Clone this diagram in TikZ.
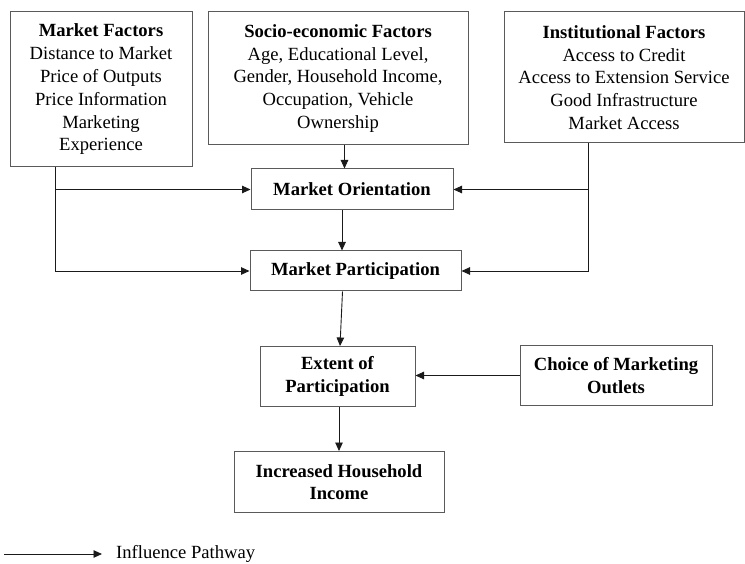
\documentclass[tikz,border=0pt]{standalone}
\usepackage{fontspec}
\setmainfont{Liberation Serif}
\usepackage{tikz}
\usetikzlibrary{arrows.meta,positioning,calc}
\usepackage{xcolor}
\definecolor{boxgray}{HTML}{5A5A5A}
\definecolor{linkdark}{HTML}{1A1A1A}

\begin{document}
\begin{tikzpicture}[
  x=1pt, y=-1pt,
  font=\fontsize{18.6pt}{22.8pt}\selectfont,
  factorbox/.style={
    draw=boxgray,
    line width=1pt,
    align=center,
    inner sep=0pt
  },
  stagebox/.style={
    draw=boxgray,
    line width=1pt,
    align=center,
    inner sep=0pt,
    font=\fontsize{18.6pt}{22.2pt}\selectfont\bfseries
  },
  flow/.style={
    draw=linkdark,
    line width=0.9pt,
    -{Triangle[length=8.5pt,width=7.5pt]}
  }
]
  \useasboundingbox (0,0) rectangle (745,564);

  % --- Factor boxes along the top ---
  \node[factorbox, minimum width=182pt, minimum height=155pt] (mkt) at (101,89.5) {
    \textbf{Market Factors}\\
    Distance to Market\\
    Price of Outputs\\
    Price Information\\
    Marketing\\
    Experience
  };
  \node[factorbox, minimum width=260pt, minimum height=133pt] (socio) at (338,78.5) {
    \textbf{Socio-economic Factors}\\
    Age, Educational Level,\\
    Gender, Household Income,\\
    Occupation, Vehicle\\
    Ownership
  };
  \node[factorbox, minimum width=240pt, minimum height=131pt] (inst) at (624,77.5) {
    \textbf{Institutional Factors}\\
    Access to Credit\\
    Access to Extension Service\\
    Good Infrastructure\\
    Market Access
  };

  % --- Middle stages ---
  \node[stagebox, minimum width=202pt, minimum height=41pt] (orient) at (352,189.5) {Market Orientation};
  \node[stagebox, minimum width=211pt, minimum height=40pt] (partic) at (355.5,271) {Market Participation};
  \node[stagebox, minimum width=155pt, minimum height=60pt] (extent) at (337.5,376.5) {Extent of\\Participation};
  \node[stagebox, minimum width=192pt, minimum height=59pt] (choice) at (616,375.5) {Choice of Marketing\\Outlets};
  \node[stagebox, minimum width=210pt, minimum height=61pt] (income) at (339,482) {Increased Household\\Income};

  % side feeds
  \coordinate (mktdrop) at (55,0);
  \draw[flow] (mkt.south -| mktdrop) |- (orient.west);
  \draw[flow] (mkt.south -| mktdrop) |- (partic.west);
  \draw[flow] ([xshift=-36pt]inst.south) |- (orient.east);
  \draw[flow] ([xshift=-36pt]inst.south) |- (partic.east);

  % main chain
  \draw[flow] ([xshift=6.5pt]socio.south) -- ([xshift=6.5pt]socio.south |- orient.north);
  \draw[flow] ([xshift=-10pt]orient.south) -- ([xshift=-10pt]orient.south |- partic.north);
  \draw[flow] ([xshift=-13pt]partic.south) -- ([xshift=2.5pt]extent.north);
  \draw[flow] ([xshift=1.5pt]extent.south) -- ([xshift=1.5pt]extent.south |- income.north);
  \draw[flow] (choice.west) -- (choice.west -| extent.east);

  % Legend
  \coordinate (legstart) at (4,554);
  \coordinate (legend end) at (102,554);
  \node[anchor=west, inner sep=0pt] (legtext) at (116,554) {Influence Pathway};
  \draw[flow] (legstart) -- (legend end);

\end{tikzpicture}
\end{document}
